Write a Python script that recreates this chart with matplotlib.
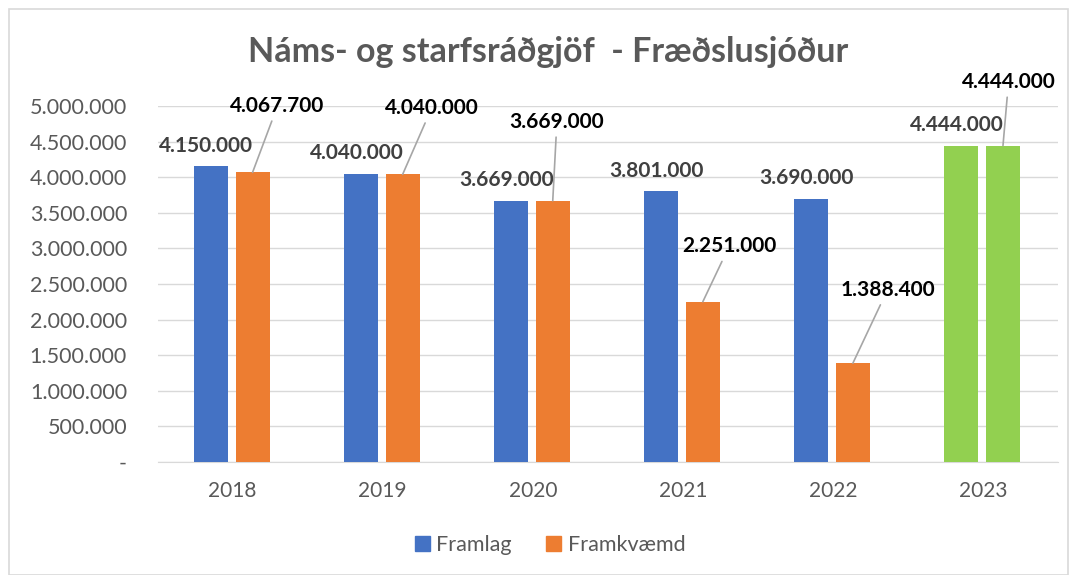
import matplotlib.pyplot as plt
import numpy as np
from matplotlib.patches import Rectangle

plt.rcParams['font.family'] = ['Lato', 'DejaVu Sans']

# Data
years = ['2018', '2019', '2020', '2021', '2022', '2023']
framlag = [4150000, 4040000, 3669000, 3801000, 3690000, 4444000]
framkvaemd = [4067700, 4040000, 3669000, 2251000, 1388400, 4444000]
yticks = [0, 500000, 1000000, 1500000, 2000000, 2500000, 3000000,
          3500000, 4000000, 4500000, 5000000]

# label offsets (points) for the Framkvæmd labels with leader lines
lead_offsets = [(18, 48), (21, 48), (3, 57), (19, 40), (25, 53), (4, 46)]


def fmt(v):
    if v == 0:
        return '-'
    return f'{v:,.0f}'.replace(',', '.')


blue = '#4472C4'
orange = '#ED7D31'
green = '#92D050'
gray_txt = '#595959'

fig = plt.figure(figsize=(10.72, 5.75), dpi=100)
ax = fig.add_axes([0.147, 0.1965, 0.84, 0.6192])

x = np.arange(len(years))
w = 0.227
c1 = [green if y == '2023' else blue for y in years]
c2 = [green if y == '2023' else orange for y in years]
b1 = ax.bar(x - 0.147, framlag, w, color=c1, zorder=3)
b2 = ax.bar(x + 0.133, framkvaemd, w, color=c2, zorder=3)

ax.set_ylim(0, 5000000)
ax.set_xlim(-0.5, len(years) - 0.5)
ax.set_yticks(yticks)
ax.set_yticklabels([fmt(v) for v in yticks], color=gray_txt, fontsize=15.5)
ax.set_xticks(x)
ax.set_xticklabels(years, color=gray_txt, fontsize=15)
ax.tick_params(axis='y', length=0, pad=22)
ax.tick_params(axis='x', length=0, pad=14)
ax.grid(axis='y', color='#D9D9D9', linewidth=1, zorder=0)
for s in ['top', 'right', 'left']:
    ax.spines[s].set_visible(False)
ax.spines['bottom'].set_color('#D9D9D9')

# Framlag labels above bars
for rect, v in zip(b1, framlag):
    ax.annotate(fmt(v), (rect.get_x() + rect.get_width() / 2, v),
                xytext=(-3, 15), textcoords='offset points',
                ha='center', va='center', fontsize=15, fontweight='bold',
                color='#404040', zorder=5)

# Framkvæmd labels with leader lines
for rect, v, off in zip(b2, framkvaemd, lead_offsets):
    ax.annotate(fmt(v), (rect.get_x() + rect.get_width() / 2, v),
                xytext=off, textcoords='offset points',
                ha='center', va='center', fontsize=15, fontweight='bold',
                color='black', zorder=5,
                arrowprops=dict(arrowstyle='-', color='#A6A6A6', lw=1.2,
                                shrinkA=2, shrinkB=0))

fig.text(0.511, 0.91, 'Náms- og starfsráðgjöf  - Fræðslusjóður',
         ha='center', va='center', fontsize=24.5, fontweight='bold', color=gray_txt)

handles = [Rectangle((0, 0), 1, 1, color=blue), Rectangle((0, 0), 1, 1, color=orange)]
fig.legend(handles, ['Framlag', 'Framkvæmd'], loc='center', bbox_to_anchor=(0.513, 0.052),
           ncol=2, frameon=False, fontsize=15.5, handlelength=0.7, handleheight=0.7,
           columnspacing=1.6, handletextpad=0.3, labelcolor=gray_txt)

# chart border
fig.add_artist(Rectangle((0.008, 0.0), 0.988, 0.985, transform=fig.transFigure,
                         fill=False, edgecolor='#D9D9D9', linewidth=1.2))

fig.savefig('out.png', dpi=100)
